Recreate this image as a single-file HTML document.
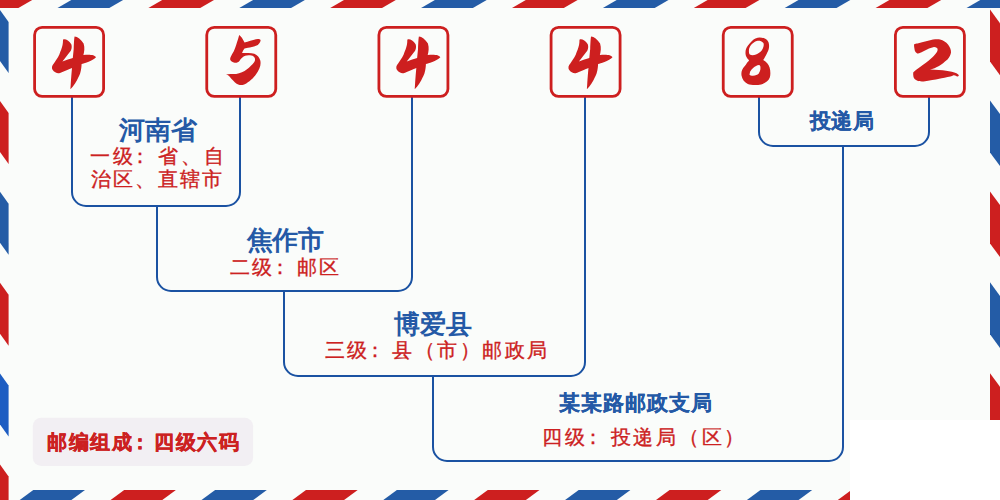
<!DOCTYPE html>
<html><head><meta charset="utf-8"><style>
html,body{margin:0;padding:0;}
body{width:1000px;height:500px;position:relative;overflow:hidden;background:#fafcfa;}
#wr{position:absolute;left:850px;top:420px;width:150px;height:80px;background:#ffffff;}
svg{position:absolute;left:0;top:0;}
.t{position:absolute;white-space:nowrap;line-height:1;font-family:"Liberation Sans", sans-serif;}
</style></head><body>
<div id="wr"></div>
<svg width="1000" height="500" viewBox="0 0 1000 500">
<polygon points="-124.30,8 -72.50,8 -58.70,0 -110.50,0" fill="#245ca6"/>
<polygon points="-33.40,8 18.40,8 32.20,0 -19.60,0" fill="#cd1f1f"/>
<polygon points="57.50,8 109.30,8 123.10,0 71.30,0" fill="#245ca6"/>
<polygon points="148.40,8 200.20,8 214.00,0 162.20,0" fill="#cd1f1f"/>
<polygon points="239.30,8 291.10,8 304.90,0 253.10,0" fill="#245ca6"/>
<polygon points="330.20,8 382.00,8 395.80,0 344.00,0" fill="#cd1f1f"/>
<polygon points="421.10,8 472.90,8 486.70,0 434.90,0" fill="#245ca6"/>
<polygon points="512.00,8 563.80,8 577.60,0 525.80,0" fill="#cd1f1f"/>
<polygon points="602.90,8 654.70,8 668.50,0 616.70,0" fill="#245ca6"/>
<polygon points="693.80,8 745.60,8 759.40,0 707.60,0" fill="#cd1f1f"/>
<polygon points="784.70,8 836.50,8 850.30,0 798.50,0" fill="#245ca6"/>
<polygon points="875.60,8 927.40,8 941.20,0 889.40,0" fill="#cd1f1f"/>
<polygon points="966.50,8 1018.30,8 1032.10,0 980.30,0" fill="#245ca6"/>
<polygon points="1057.40,8 1109.20,8 1123.00,0 1071.20,0" fill="#cd1f1f"/>
<polygon points="0,-80.90 8.6,-68.90 8.6,-17.90 0,-29.90" fill="#cd1f1f"/>
<polygon points="0,10.00 8.6,22.00 8.6,73.00 0,61.00" fill="#245ca6"/>
<polygon points="0,100.90 8.6,112.90 8.6,163.90 0,151.90" fill="#cd1f1f"/>
<polygon points="0,191.80 8.6,203.80 8.6,254.80 0,242.80" fill="#245ca6"/>
<polygon points="0,282.70 8.6,294.70 8.6,345.70 0,333.70" fill="#cd1f1f"/>
<polygon points="0,373.60 8.6,385.60 8.6,436.60 0,424.60" fill="#1d5dc2"/>
<polygon points="0,464.50 8.6,476.50 8.6,527.50 0,515.50" fill="#cd1f1f"/>
<polygon points="0,555.40 8.6,567.40 8.6,618.40 0,606.40" fill="#245ca6"/>
<svg x="980" y="0" width="20" height="420" viewBox="980 0 20 420">
<polygon points="990,-81.30 1000,-67.70 1000,-15.70 990,-29.30" fill="#245ca6"/>
<polygon points="990,9.60 1000,23.20 1000,75.20 990,61.60" fill="#cd1f1f"/>
<polygon points="990,100.50 1000,114.10 1000,166.10 990,152.50" fill="#245ca6"/>
<polygon points="990,191.40 1000,205.00 1000,257.00 990,243.40" fill="#cd1f1f"/>
<polygon points="990,282.30 1000,295.90 1000,347.90 990,334.30" fill="#245ca6"/>
<polygon points="990,373.20 1000,386.80 1000,438.80 990,425.20" fill="#cd1f1f"/>
<polygon points="990,464.10 1000,477.70 1000,529.70 990,516.10" fill="#245ca6"/>
</svg>
<svg x="0" y="480" width="850" height="20" viewBox="0 480 850 20">
<polygon points="-57.60,490 -5.90,490 -19.50,500 -71.20,500" fill="#cd1f1f"/>
<polygon points="33.30,490 85.00,490 71.40,500 19.70,500" fill="#245ca6"/>
<polygon points="124.20,490 175.90,490 162.30,500 110.60,500" fill="#cd1f1f"/>
<polygon points="215.10,490 266.80,490 253.20,500 201.50,500" fill="#245ca6"/>
<polygon points="306.00,490 357.70,490 344.10,500 292.40,500" fill="#cd1f1f"/>
<polygon points="396.90,490 448.60,490 435.00,500 383.30,500" fill="#245ca6"/>
<polygon points="487.80,490 539.50,490 525.90,500 474.20,500" fill="#cd1f1f"/>
<polygon points="578.70,490 630.40,490 616.80,500 565.10,500" fill="#245ca6"/>
<polygon points="669.60,490 721.30,490 707.70,500 656.00,500" fill="#cd1f1f"/>
<polygon points="760.50,490 812.20,490 798.60,500 746.90,500" fill="#245ca6"/>
<polygon points="851.40,490 903.10,490 889.50,500 837.80,500" fill="#cd1f1f"/>
<polygon points="942.30,490 994.00,490 980.40,500 928.70,500" fill="#245ca6"/>
</svg>
<path d="M72,97 V192 A14,14 0 0 0 86,206 H226 A14,14 0 0 0 240,192 V97" fill="none" stroke="#1a52a2" stroke-width="2"/>
<path d="M157,206 V277 A14,14 0 0 0 171,291 H398 A14,14 0 0 0 412,277 V97" fill="none" stroke="#1a52a2" stroke-width="2"/>
<path d="M284,291 V362 A14,14 0 0 0 298,376 H571 A14,14 0 0 0 585,362 V97" fill="none" stroke="#1a52a2" stroke-width="2"/>
<path d="M433,376 V447 A14,14 0 0 0 447,461 H829 A14,14 0 0 0 843,447 V146" fill="none" stroke="#1a52a2" stroke-width="2"/>
<path d="M759,97 V132 A14,14 0 0 0 773,146 H915 A14,14 0 0 0 929,132 V97" fill="none" stroke="#1a52a2" stroke-width="2"/>
<rect x="34.60" y="27.4" width="69" height="69" rx="7.5" fill="#fafcfa" stroke="#cd1f1f" stroke-width="2.8"/>
<rect x="206.76" y="27.4" width="69" height="69" rx="7.5" fill="#fafcfa" stroke="#cd1f1f" stroke-width="2.8"/>
<rect x="378.92" y="27.4" width="69" height="69" rx="7.5" fill="#fafcfa" stroke="#cd1f1f" stroke-width="2.8"/>
<rect x="551.08" y="27.4" width="69" height="69" rx="7.5" fill="#fafcfa" stroke="#cd1f1f" stroke-width="2.8"/>
<rect x="723.24" y="27.4" width="69" height="69" rx="7.5" fill="#fafcfa" stroke="#cd1f1f" stroke-width="2.8"/>
<rect x="895.40" y="27.4" width="69" height="69" rx="7.5" fill="#fafcfa" stroke="#cd1f1f" stroke-width="2.8"/>
<path transform="translate(0.00,0)" d="M63,39.7 C65,38.6 68.6,40.2 71.3,44.2 C72.4,47.8 71,51 69.8,52 L63.8,59.8 L62.4,61.6 C66,60 70,58.8 72.8,58 L73.7,49 C74,42 74.2,38 74.6,36.4 C77.5,36.5 81,39 83.6,43.6 C85,47.8 84.2,52 83.4,55 C87,54.6 91,54.6 93.2,55.3 C94.5,55.8 95.8,56.6 96,57.2 C94.8,58.6 91,60.6 88,62 C85,63 83,63.6 81.6,64 C81.4,70 80,75 78.4,77.2 C76.6,81.6 73.5,86 70.4,89.2 C70.6,86 70.8,84 70.8,82.8 C71.2,78 71.6,72 72,68 C69.5,69 63,72 59.2,73.2 C57.4,73.6 54.2,72.6 52.4,69.6 C51.6,67.6 51.8,65.6 54,63.2 C57,59 59.5,55 60.2,52 C61.6,49 62.6,45.5 62.9,42.4 Z" fill="#cd1f1f"/>
<path transform="translate(344.32,0)" d="M63,39.7 C65,38.6 68.6,40.2 71.3,44.2 C72.4,47.8 71,51 69.8,52 L63.8,59.8 L62.4,61.6 C66,60 70,58.8 72.8,58 L73.7,49 C74,42 74.2,38 74.6,36.4 C77.5,36.5 81,39 83.6,43.6 C85,47.8 84.2,52 83.4,55 C87,54.6 91,54.6 93.2,55.3 C94.5,55.8 95.8,56.6 96,57.2 C94.8,58.6 91,60.6 88,62 C85,63 83,63.6 81.6,64 C81.4,70 80,75 78.4,77.2 C76.6,81.6 73.5,86 70.4,89.2 C70.6,86 70.8,84 70.8,82.8 C71.2,78 71.6,72 72,68 C69.5,69 63,72 59.2,73.2 C57.4,73.6 54.2,72.6 52.4,69.6 C51.6,67.6 51.8,65.6 54,63.2 C57,59 59.5,55 60.2,52 C61.6,49 62.6,45.5 62.9,42.4 Z" fill="#cd1f1f"/>
<path transform="translate(516.48,0)" d="M63,39.7 C65,38.6 68.6,40.2 71.3,44.2 C72.4,47.8 71,51 69.8,52 L63.8,59.8 L62.4,61.6 C66,60 70,58.8 72.8,58 L73.7,49 C74,42 74.2,38 74.6,36.4 C77.5,36.5 81,39 83.6,43.6 C85,47.8 84.2,52 83.4,55 C87,54.6 91,54.6 93.2,55.3 C94.5,55.8 95.8,56.6 96,57.2 C94.8,58.6 91,60.6 88,62 C85,63 83,63.6 81.6,64 C81.4,70 80,75 78.4,77.2 C76.6,81.6 73.5,86 70.4,89.2 C70.6,86 70.8,84 70.8,82.8 C71.2,78 71.6,72 72,68 C69.5,69 63,72 59.2,73.2 C57.4,73.6 54.2,72.6 52.4,69.6 C51.6,67.6 51.8,65.6 54,63.2 C57,59 59.5,55 60.2,52 C61.6,49 62.6,45.5 62.9,42.4 Z" fill="#cd1f1f"/>
<path d="M239.2,35.1 C241,36.2 242.8,39 244.5,42.5 C249,41.5 254,39.6 257.8,39 C259.5,38.9 260.8,39.6 260.6,40.6 C260.3,42.5 258.5,44.6 257.8,45 C255,46.2 251,47.4 248,47.7 L244.5,48.4 C243.6,49.4 242.6,51.5 242,53 C246,53.2 251,52.8 254.3,53.7 C257.5,55 259.5,57.5 260.3,60.5 C261.2,64.5 260,69 255.4,75.2 C252,79.5 247,83.5 243.4,84.8 C241,85.3 238,85.2 235,82.4 C232.5,80 230,76.8 228.4,75.4 C227.4,74.8 226.2,74.4 225.4,74.3 C228,74 233,74 236.2,74 C240,73.4 244,71.5 247,69.2 C249.5,67.6 252.5,64.5 254.3,62.1 C255.6,60 255.2,57.8 253.6,56.5 C251.5,55 247,55.2 245.2,55.8 C243,56.6 241,58.6 239.6,60.7 C238.4,62.2 236.8,63 234.7,62.8 C232.5,62.6 230.4,61 230.1,59.3 C230,57.5 231.6,55 233.8,51.2 C235.5,47.5 237,42 238,39.2 Z" fill="#cd1f1f"/>
<path d="M759.6,37.4 C764,37.4 767.6,39.5 768.6,42.5 C769.6,46 769,50 767.3,52.5 C766,55.5 764.2,58.6 763.2,60.1 C766.5,62 768.6,64.5 769.6,67.5 C770.6,71 770.6,75 769.8,77.6 C768.6,81 765,83.6 761.1,84.4 C757,85.2 751,85.2 747.8,83.9 C744.6,82.6 742.2,79.6 741.5,75.5 C741,72 742,68.6 745,65.7 C746,64.5 747.5,62 748.5,61.2 L749.1,60.2 C746.8,58 745.4,55.6 745.5,53.2 C745.4,50.5 746,48 748,45.5 C750.5,42 753,39.5 755.4,38.4 C757,37.7 758.4,37.4 759.6,37.4 Z M749.8,54.6 C748.6,53 748.6,49 749.8,46.9 C751,44.5 754.5,41.5 756.8,41 C758.5,40.6 761.5,40.6 763.4,43 C764.2,44.5 763.6,47.5 761.7,50.4 C760.3,52.2 758.2,53.5 756,54.6 C754,55.4 751.5,55.8 749.8,54.6 Z M749.5,74.8 C749.6,73.5 750,72.5 750.2,71.6 C751,70 752,68.8 753.4,67.8 C755,66.4 757,65.2 759,65 C760.2,65.4 760.6,66.5 760.4,67.8 C760.6,69.5 760,71.5 758.6,73.7 C757.5,74.8 755.6,75.5 753,75.8 C751.5,75.8 750,75.6 749.5,74.8 Z" fill="#cd1f1f" fill-rule="evenodd"/>
<path d="M914,44.5 C915,43.8 916.5,43.6 917.5,43.5 C922,42.5 928,40.5 933,39.5 C936,39 939,39 940,39.5 C943.5,40.5 946,42 948,44.5 C950,47 951.2,50 951,52.5 C950.6,55 949.5,57 947.5,59.5 C944.5,62 941.5,64.5 939,66 C936.5,67.5 932.5,69 930,69.6 C936,69.8 942,70.4 946,70.8 C950,71.2 954,72.2 956.5,73.2 C958,74 959,75 958.8,75.8 C958.2,76.6 957.2,76.6 956.6,76.2 C955.5,75.6 954.5,75.2 953.5,75.3 C952.5,75.8 951.5,76.3 950.4,76.6 C947,77.4 942,78.3 939.2,78.8 C935,79.6 930,80.6 923.6,81.4 C921,81.6 918.5,81.3 917.4,80.8 C915.5,80 914,78.6 913.5,77 C913.2,75.5 913.1,73.8 913.2,72.5 C914.5,71 916,69.8 918,68.4 C921,66.4 925,63.5 928.8,60.5 C931,58.8 933.6,56.2 935,54.5 C936.2,53.2 937.2,51.8 937.5,50.5 C937.8,49.4 937.6,48.6 937,48 C936,47.2 935,47 934,47 C932.4,47.3 930.5,48 929,48.5 C927,49.3 925,50.5 923,51.5 C921,52.4 919.5,53.2 918,53.5 C917,53.5 916.2,52.8 915.5,52 C914.8,51 914.6,50 914.5,49 C914.2,47.5 914,46 914,44.5 Z" fill="#cd1f1f"/>
<rect x="32.8" y="417.7" width="220.3" height="48.3" rx="8.5" fill="#f2eff3"/>
</svg>
<div class="t" style="left:118.5px;top:116.5px;font-size:26px;letter-spacing:0.0px;color:#2459a6;font-weight:bold">河南省</div>
<div class="t" style="left:89.7px;top:145.6px;font-size:20px;letter-spacing:2.84px;color:#cc2121;font-weight:normal;-webkit-text-stroke:0.35px #cc2121">一级<span style="position:relative;left:-5px">：</span>省、自</div>
<div class="t" style="left:91.4px;top:169.4px;font-size:20px;letter-spacing:2.04px;color:#cc2121;font-weight:normal;-webkit-text-stroke:0.35px #cc2121">治区、直辖市</div>
<div class="t" style="left:247.1px;top:226.7px;font-size:26px;letter-spacing:-0.6px;color:#2459a6;font-weight:bold">焦作市</div>
<div class="t" style="left:229.9px;top:257.0px;font-size:20px;letter-spacing:2.3px;color:#cc2121;font-weight:normal;-webkit-text-stroke:0.35px #cc2121">二级<span style="position:relative;left:-5px">：</span>邮区</div>
<div class="t" style="left:394.0px;top:310.8px;font-size:26px;letter-spacing:0.0px;color:#2459a6;font-weight:bold">博爱县</div>
<div class="t" style="left:325.0px;top:340.2px;font-size:20px;letter-spacing:2.44px;color:#cc2121;font-weight:normal;-webkit-text-stroke:0.35px #cc2121">三级<span style="position:relative;left:-5px">：</span>县（市）邮政局</div>
<div class="t" style="left:559.0px;top:392.3px;font-size:21px;letter-spacing:1.07px;color:#2459a6;font-weight:bold;-webkit-text-stroke:0.2px #2459a6">某某路邮政支局</div>
<div class="t" style="left:542.4px;top:426.8px;font-size:20px;letter-spacing:2.74px;color:#cc2121;font-weight:normal;-webkit-text-stroke:0.35px #cc2121">四级<span style="position:relative;left:-5px">：</span>投递局（区）</div>
<div class="t" style="left:809.8px;top:110.2px;font-size:21px;letter-spacing:0.65px;color:#2459a6;font-weight:bold;-webkit-text-stroke:0.2px #2459a6">投递局</div>
<div class="t" style="left:47.2px;top:432.0px;font-size:20px;letter-spacing:1.44px;color:#cc2121;font-weight:bold;-webkit-text-stroke:0.45px #cc2121">邮编组成<span style="position:relative;left:-2.5px">：</span>四级六码</div>
</body></html>
